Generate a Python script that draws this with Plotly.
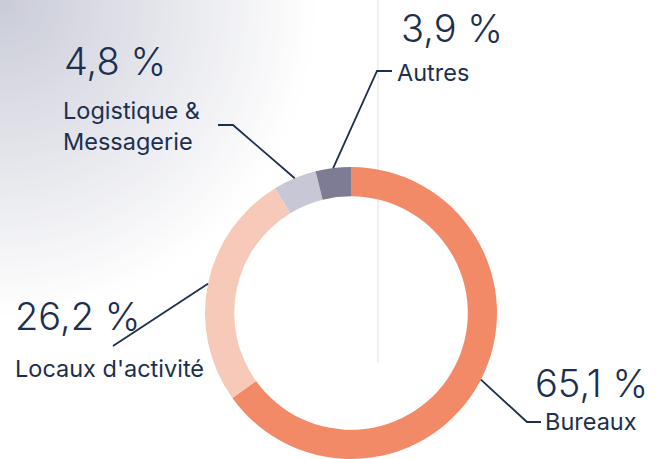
import math
import plotly.graph_objects as go

W, H = 664, 459

# ---- data ----
labels = ["Bureaux", "Locaux d'activité", "Logistique &<br>Messagerie", "Autres"]
values = [65.1, 26.2, 4.8, 3.9]
pct_text = ["65,1 %", "26,2 %", "4,8 %", "3,9 %"]
colors = ["#F28A68", "#F7C9B8", "#C8C7D5", "#7D7C94"]

# ---- geometry / style ----
CX, CY, R = 351, 313, 146          # pie centre (px from left/top) and outer radius
TXT = "#1C2F4E"
FONT = "Inter, Roboto, sans-serif"


def px(x):
    return x / W


def py(y):
    return 1 - y / H


fig = go.Figure()
fig.add_trace(go.Pie(
    labels=labels, values=values, sort=False, direction="clockwise", rotation=0,
    hole=0.8, textinfo="none", hoverinfo="label+percent",
    marker=dict(colors=colors, line=dict(width=0)),
    domain=dict(x=[px(CX - R), px(CX + R)], y=[0, 2 * R / H]),
    showlegend=False,
))

shapes = []
# background radial gradient (top-left corner)
GR = 320
corner = (201, 203, 215)
N = 70
for i in range(N):
    t = i / N
    rad = GR * (1 - t)
    c = tuple(round(255 + (cc - 255) * t) for cc in corner)
    shapes.append(dict(type="circle", xref="paper", yref="paper", layer="below",
                       x0=-rad / W, x1=rad / W, y0=1 - rad / H, y1=1 + rad / H,
                       fillcolor="rgb(%d,%d,%d)" % c, line=dict(width=0)))
# thin vertical guide line
shapes.append(dict(type="line", xref="paper", yref="paper", layer="below",
                   x0=px(378), x1=px(378), y0=py(0), y1=py(362),
                   line=dict(color="#E2E2E6", width=1)))

# leader lines: anchored at slice mid-angle on the outer ring
total = sum(values)
cum = 0
anchors = []
for v in values:
    mid = (cum + v / 2) / total * 2 * math.pi
    anchors.append((CX + R * math.sin(mid), CY - R * math.cos(mid)))
    cum += v

leader_pts = [
    [anchors[0], (527, 422), (541, 422)],
    [anchors[1], (113, 346)],
    [anchors[2], (233, 125), (218, 125)],
    [anchors[3], (377, 71), (392, 71)],
]
for pts in leader_pts:
    path = "M " + " L ".join("%f,%f" % (px(x), py(y)) for x, y in pts)
    shapes.append(dict(type="path", xref="paper", yref="paper", layer="above",
                       path=path, line=dict(color=TXT, width=1.8)))

# text annotations: (label pos, pct pos)
label_pos = [(543, 421.5), (13, 368), (61, 126), (395, 72.5)]
pct_pos = [(533, 382.5), (13, 316), (62, 61), (399, 28)]
annotations = []
for lab, pt, (lx, ly), (qx, qy) in zip(labels, pct_text, label_pos, pct_pos):
    annotations.append(dict(text=pt, xref="paper", yref="paper", x=px(qx), y=py(qy),
                            xanchor="left", yanchor="middle", showarrow=False,
                            font=dict(family=FONT, size=38, color=TXT, weight=300)))
    annotations.append(dict(text=lab, xref="paper", yref="paper", x=px(lx), y=py(ly),
                            xanchor="left", yanchor="middle", align="left", showarrow=False,
                            font=dict(family=FONT, size=23.5, color=TXT)))

fig.update_layout(
    width=W, height=H, margin=dict(l=0, r=0, t=0, b=0),
    paper_bgcolor="white", plot_bgcolor="white",
    shapes=shapes, annotations=annotations,
)

fig.write_html("out.html")
